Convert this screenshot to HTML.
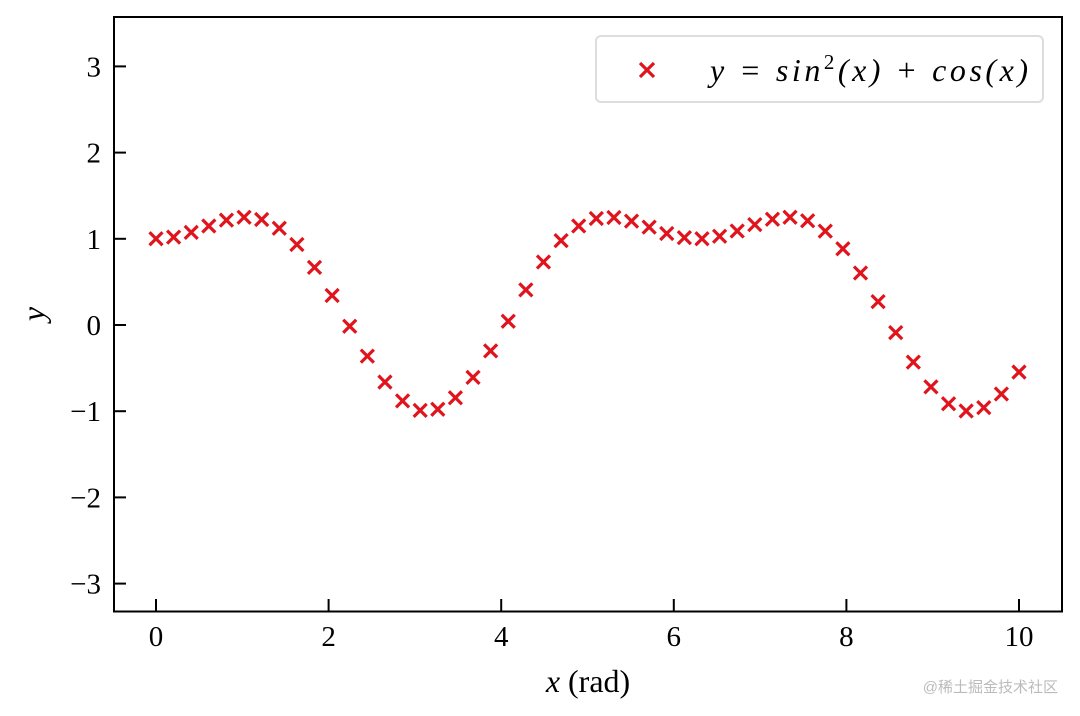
<!DOCTYPE html>
<html><head><meta charset="utf-8"><style>
html,body{margin:0;padding:0;background:#fff;}
svg{display:block;font-family:"Liberation Serif",serif;}
</style></head><body>
<svg id="chart" width="1080" height="716" viewBox="0 0 1080 716" xmlns="http://www.w3.org/2000/svg">
<rect x="0" y="0" width="1080" height="716" fill="#fff"/>
<g id="marks"></g>
<rect x="114" y="17" width="948" height="594.5" fill="none" stroke="#000" stroke-width="2"/>
<g id="xticks"></g>
<g id="yticks"></g>
<text x="588" y="692" font-size="32" text-anchor="middle"><tspan font-style="italic">x</tspan> (rad)</text>
<text x="44" y="314" font-size="32" font-style="italic" text-anchor="middle" transform="rotate(-90 44 314)">y</text>
<g>
<rect x="596" y="36" width="447" height="66" rx="5" fill="#fff" stroke="#ddd" stroke-width="2"/>
<g stroke="#e0141c" stroke-width="3.2"><line x1="640" y1="63" x2="654" y2="77"/><line x1="640" y1="77" x2="654" y2="63"/></g>
<text x="710" y="81" font-size="32" font-style="italic" textLength="318" lengthAdjust="spacing">y = sin<tspan dy="-12" font-size="21" font-style="normal">2</tspan><tspan dy="12">(x) + cos(x)</tspan></text>
</g>
<text x="1058" y="692" font-size="15" fill="#bbb" text-anchor="end" font-family="'Liberation Sans','Noto Sans CJK SC',sans-serif">@稀土掘金技术社区</text>
</svg>
<script>
const xValues=[0,0.2041,0.4082,0.6122,0.8163,1.0204,1.2245,1.4286,1.6327,1.8367,2.0408,2.2449,2.449,2.6531,2.8571,3.0612,3.2653,3.4694,3.6735,3.8776,4.0816,4.2857,4.4898,4.6939,4.898,5.102,5.3061,5.5102,5.7143,5.9184,6.1224,6.3265,6.5306,6.7347,6.9388,7.1429,7.3469,7.551,7.7551,7.9592,8.1633,8.3673,8.5714,8.7755,8.9796,9.1837,9.3878,9.5918,9.7959,10];
const yValues=[1,1.02,1.075,1.149,1.216,1.25,1.224,1.122,0.934,0.668,0.342,-0.014,-0.361,-0.662,-0.88,-0.99,-0.977,-0.844,-0.608,-0.3,0.043,0.407,0.731,0.979,1.149,1.235,1.247,1.205,1.135,1.062,1.013,1.001,1.029,1.09,1.165,1.227,1.25,1.209,1.089,0.884,0.603,0.271,-0.088,-0.431,-0.718,-0.914,-0.998,-0.959,-0.801,-0.546];
const xTickLabels=["0","2","4","6","8","10"];
const xTickValues=[0,2,4,6,8,10];
const yTickLabels=["\u22123","\u22122","\u22121","0","1","2","3"];
const yTickValues=[-3,-2,-1,0,1,2,3];
const NS="http://www.w3.org/2000/svg";
function sx(v){return 156+v*86.3;}
function sy(v){return 325-v*86.2;}
const marks=document.getElementById('marks');
xValues.forEach((x,i)=>{
  const g=document.createElementNS(NS,'g');
  
  
  g.setAttribute('stroke','#e0141c');g.setAttribute('stroke-width','3.2');
  const cx=sx(x),cy=sy(yValues[i]),s=6.5;
  g.innerHTML=`<line x1="${cx-s}" y1="${cy-s}" x2="${cx+s}" y2="${cy+s}"/><line x1="${cx-s}" y1="${cy+s}" x2="${cx+s}" y2="${cy-s}"/>`;
  marks.appendChild(g);
});
const xt=document.getElementById('xticks');
xTickValues.forEach((v,i)=>{
  const l=document.createElementNS(NS,'line');
  
  
  l.setAttribute('x1',sx(v));l.setAttribute('x2',sx(v));l.setAttribute('y1',611);l.setAttribute('y2',599);
  l.setAttribute('stroke','#000');l.setAttribute('stroke-width','2');xt.appendChild(l);
  const t=document.createElementNS(NS,'text');
  
  
  t.setAttribute('x',sx(v));t.setAttribute('y',646);t.setAttribute('font-size','29');t.setAttribute('text-anchor','middle');
  t.textContent=xTickLabels[i];xt.appendChild(t);
});
const yt=document.getElementById('yticks');
yTickValues.forEach((v,i)=>{
  const l=document.createElementNS(NS,'line');
  
  
  l.setAttribute('x1',114);l.setAttribute('x2',126);l.setAttribute('y1',sy(v));l.setAttribute('y2',sy(v));
  l.setAttribute('stroke','#000');l.setAttribute('stroke-width','2');yt.appendChild(l);
  const t=document.createElementNS(NS,'text');
  
  
  t.setAttribute('x',101);t.setAttribute('y',sy(v)+10);t.setAttribute('font-size','29');t.setAttribute('text-anchor','end');
  t.textContent=yTickLabels[i];yt.appendChild(t);
});
</script>
</body></html>
